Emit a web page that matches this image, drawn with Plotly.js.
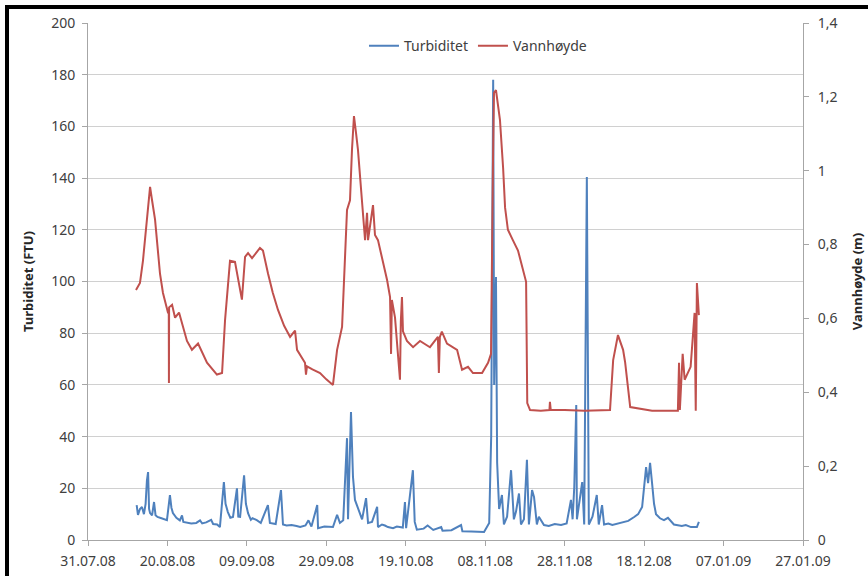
<!DOCTYPE html>
<html>
<head>
<meta charset="utf-8">
<script src="https://cdn.plot.ly/plotly-3.0.1.min.js"></script>
<style>
  html, body { margin: 0; padding: 0; background: #fff; overflow: hidden; width: 868px; height: 576px; }
  #chart { width: 868px; height: 576px; position: absolute; left: 0; top: 0; }
  #frame { position: absolute; left: 5px; top: 5px; width: 859px; height: 567px;
           border-top: 4px solid #000; border-left: 4px solid #000; pointer-events: none; }
</style>
</head>
<body>
<div id="chart"></div>
<div id="frame"></div>
<script>
// Turbiditet (FTU), left axis
const turbDates = [
  "2008-08-12 06:00","2008-08-12 14:00","2008-08-13 02:00","2008-08-13 14:00","2008-08-14 02:00","2008-08-14 12:00",
  "2008-08-14 20:00","2008-08-15 03:00","2008-08-15 09:00","2008-08-15 15:00","2008-08-16 03:00","2008-08-16 15:00",
  "2008-08-17 00:00","2008-08-17 12:00","2008-08-18 12:00","2008-08-19 06:00","2008-08-19 21:00","2008-08-20 15:00",
  "2008-08-21 00:00","2008-08-21 09:00","2008-08-22 06:00","2008-08-23 03:00","2008-08-23 16:00","2008-08-24 00:00",
  "2008-08-24 22:00","2008-08-26 00:00","2008-08-27 06:00","2008-08-28 05:00","2008-08-28 18:00","2008-08-29 18:00",
  "2008-08-31 00:00","2008-08-31 12:00","2008-09-01 12:00","2008-09-02 05:00","2008-09-03 05:00","2008-09-03 15:00",
  "2008-09-04 05:00","2008-09-04 20:00","2008-09-05 12:00","2008-09-06 12:00","2008-09-06 20:00","2008-09-07 07:00",
  "2008-09-08 07:00","2008-09-08 18:00","2008-09-09 07:00","2008-09-10 00:00","2008-09-10 10:00","2008-09-11 12:00",
  "2008-09-12 12:00","2008-09-14 07:00","2008-09-14 19:00","2008-09-15 12:00","2008-09-16 06:00","2008-09-17 14:00",
  "2008-09-18 02:00","2008-09-19 00:00","2008-09-20 06:00","2008-09-21 12:00","2008-09-22 10:00","2008-09-23 18:00",
  "2008-09-24 12:00","2008-09-25 06:00","2008-09-26 17:00","2008-09-26 22:00","2008-09-28 12:00","2008-09-30 16:00",
  "2008-10-01 17:00","2008-10-02 10:00","2008-10-03 06:00","2008-10-04 05:00","2008-10-04 11:00","2008-10-05 05:00",
  "2008-10-05 17:00","2008-10-06 05:00","2008-10-07 00:00","2008-10-08 00:00","2008-10-09 00:00","2008-10-09 12:00",
  "2008-10-10 12:00","2008-10-11 19:00","2008-10-12 00:00","2008-10-13 00:00","2008-10-13 18:00","2008-10-14 12:00",
  "2008-10-15 19:00","2008-10-16 18:00","2008-10-18 06:00","2008-10-18 19:00","2008-10-19 02:00","2008-10-20 19:00",
  "2008-10-21 06:00","2008-10-21 19:00","2008-10-23 12:00","2008-10-24 12:00","2008-10-25 22:00","2008-10-27 22:00",
  "2008-10-28 06:00","2008-10-30 12:00","2008-11-01 22:00","2008-11-02 06:00","2008-11-04 12:00","2008-11-07 17:00",
  "2008-11-09 00:00","2008-11-09 12:00","2008-11-10 00:00","2008-11-10 06:00","2008-11-10 17:00","2008-11-11 00:00",
  "2008-11-11 12:00","2008-11-12 05:00","2008-11-12 17:00","2008-11-13 12:00","2008-11-14 12:00","2008-11-15 05:00",
  "2008-11-15 18:00","2008-11-16 12:00","2008-11-17 00:00","2008-11-17 18:00","2008-11-18 12:00","2008-11-19 00:00",
  "2008-11-19 19:00","2008-11-20 07:00","2008-11-21 00:00","2008-11-21 12:00","2008-11-22 19:00","2008-11-24 00:00",
  "2008-11-25 12:00","2008-11-27 02:00","2008-11-28 12:00","2008-11-29 14:00","2008-11-30 00:00","2008-11-30 10:00",
  "2008-11-30 22:00","2008-12-01 02:00","2008-12-02 10:00","2008-12-02 22:00","2008-12-03 14:00","2008-12-04 02:00",
  "2008-12-05 00:00","2008-12-06 02:00","2008-12-06 14:00","2008-12-07 10:00","2008-12-07 22:00","2008-12-09 00:00",
  "2008-12-10 00:00","2008-12-12 05:00","2008-12-14 00:00","2008-12-15 12:00","2008-12-16 12:00","2008-12-17 12:00",
  "2008-12-18 12:00","2008-12-19 00:00","2008-12-19 12:00","2008-12-20 00:00","2008-12-20 12:00","2008-12-21 00:00",
  "2008-12-22 00:00","2008-12-23 00:00","2008-12-24 00:00","2008-12-25 12:00","2008-12-27 12:00","2008-12-28 12:00",
  "2008-12-29 19:00","2008-12-31 07:00","2008-12-31 19:00"
];
const turbValues = [
  13.5, 9.7, 12, 12.8, 10, 14,
  23, 26.3, 12, 10.4, 9.5, 14.7,
  9.6, 8.9, 8.4, 7.9, 7.7, 17.4,
  12.5, 10.4, 8.6, 7.6, 9.5, 7,
  6.6, 6.4, 6.6, 7.6, 6.4, 6.8,
  7.8, 6.2, 6, 5, 22.4, 14,
  10.8, 8.6, 8.9, 20, 9, 8.9,
  25, 14, 10.4, 7.8, 8.4, 7.7,
  6.6, 13.5, 6.6, 6.4, 6.2, 19.3,
  6, 5.6, 5.8, 5.4, 5, 5.6,
  7.6, 5.2, 13.5, 4.6, 5.2, 5,
  9.7, 6.6, 7.6, 39.4, 8, 49.5,
  24.4, 15.5, 12, 8, 16.2, 6.6,
  7, 12.8, 5, 6, 5.6, 5,
  4.6, 5.2, 4.8, 14.7, 4.6, 27,
  7, 4, 4.4, 5.6, 3.9, 5,
  3.6, 3.8, 5.8, 3.4, 3.3, 3.1,
  6.6, 40, 178, 60, 101.7, 30,
  12, 17.4, 6, 9, 27, 8,
  11, 18, 6, 8, 31, 6,
  19.3, 16.6, 6, 9, 5.8, 5.4,
  6.2, 5.8, 6.4, 15.5, 8, 20.5,
  52.2, 8, 22.4, 6, 140.4, 6,
  9, 17.4, 6, 13.5, 6, 6.4,
  5.8, 6.6, 7.4, 8.9, 10, 12.8,
  28.2, 22, 29.8, 22, 14, 10,
  8.4, 7.7, 8.6, 6, 5.4, 5.8,
  5, 5, 7
];

// Vannhøyde (m), right axis
const levelDates = [
  "2008-08-12 02:00","2008-08-13 02:00","2008-08-13 20:00","2008-08-14 18:00","2008-08-15 15:00","2008-08-16 03:00",
  "2008-08-16 21:00","2008-08-18 03:00","2008-08-18 21:00","2008-08-20 03:00","2008-08-20 08:00","2008-08-20 09:00",
  "2008-08-20 10:00","2008-08-21 04:00","2008-08-21 22:00","2008-08-22 22:00","2008-08-24 22:00","2008-08-26 04:00",
  "2008-08-27 17:00","2008-08-29 23:00","2008-09-01 11:00","2008-09-02 18:00","2008-09-03 12:00","2008-09-04 18:00",
  "2008-09-06 00:00","2008-09-07 18:00","2008-09-08 13:00","2008-09-09 07:00","2008-09-10 07:00","2008-09-12 07:00",
  "2008-09-13 01:00","2008-09-14 08:00","2008-09-15 12:00","2008-09-16 20:00","2008-09-18 09:00","2008-09-19 21:00",
  "2008-09-21 03:00","2008-09-21 15:00","2008-09-23 15:00","2008-09-23 21:00","2008-09-24 03:00","2008-09-25 12:00",
  "2008-09-27 10:00","2008-09-29 00:00","2008-09-30 16:00","2008-10-01 17:00","2008-10-02 23:00","2008-10-04 05:00",
  "2008-10-04 23:00","2008-10-05 11:00","2008-10-05 23:00","2008-10-06 12:00","2008-10-06 23:00","2008-10-07 23:00",
  "2008-10-08 18:00","2008-10-09 06:00","2008-10-09 12:00","2008-10-10 18:00","2008-10-11 06:00","2008-10-12 00:00",
  "2008-10-14 07:00","2008-10-15 01:00","2008-10-15 07:00","2008-10-15 12:00","2008-10-16 07:00","2008-10-17 13:00",
  "2008-10-17 18:00","2008-10-18 01:00","2008-10-18 07:00","2008-10-19 07:00","2008-10-20 20:00","2008-10-22 14:00",
  "2008-10-25 02:00","2008-10-27 02:00","2008-10-27 08:00","2008-10-27 14:00","2008-10-28 02:00","2008-10-29 09:00",
  "2008-10-31 22:00","2008-11-02 04:00","2008-11-03 16:00","2008-11-04 22:00","2008-11-07 05:00","2008-11-08 17:00",
  "2008-11-09 11:00","2008-11-09 23:00","2008-11-10 05:00","2008-11-10 17:00","2008-11-11 05:00","2008-11-11 17:00",
  "2008-11-12 12:00","2008-11-13 00:00","2008-11-13 17:00","2008-11-14 06:00","2008-11-14 23:00","2008-11-16 06:00",
  "2008-11-17 12:00","2008-11-18 07:00","2008-11-18 14:00","2008-11-19 07:00","2008-11-22 00:00","2008-11-24 04:00",
  "2008-11-24 07:00","2008-11-24 12:00","2008-11-28 00:00","2008-12-03 00:00","2008-12-09 10:00","2008-12-10 05:00",
  "2008-12-11 10:00","2008-12-12 17:00","2008-12-13 05:00","2008-12-14 12:00","2008-12-20 00:00","2008-12-26 12:00",
  "2008-12-26 19:00","2008-12-27 00:00","2008-12-27 17:00","2008-12-28 05:00","2008-12-29 17:00","2008-12-30 17:00",
  "2008-12-31 00:00","2008-12-31 07:00","2008-12-31 19:00"
];
const levelValues = [
  0.677, 0.696, 0.756, 0.87, 0.956, 0.92,
  0.868, 0.721, 0.669, 0.616, 0.616, 0.425,
  0.63, 0.637, 0.602, 0.616, 0.539, 0.515,
  0.532, 0.48, 0.448, 0.452, 0.595, 0.756,
  0.753, 0.651, 0.767, 0.777, 0.763, 0.791,
  0.784, 0.721, 0.67, 0.623, 0.58, 0.55,
  0.567, 0.515, 0.48, 0.448, 0.47, 0.462,
  0.452, 0.435, 0.42, 0.515, 0.577, 0.894,
  0.92, 1.057, 1.148, 1.1, 1.057, 0.92,
  0.812, 0.886, 0.812, 0.907, 0.826, 0.812,
  0.704, 0.658, 0.504, 0.65, 0.602, 0.434,
  0.59, 0.658, 0.565, 0.539, 0.522, 0.539,
  0.522, 0.55, 0.452, 0.55, 0.564, 0.532,
  0.515, 0.461, 0.469, 0.452, 0.452, 0.48,
  0.504, 1.029, 1.211, 1.218, 1.173, 1.138,
  1.008, 0.9, 0.84, 0.826, 0.812, 0.784,
  0.731, 0.699, 0.371, 0.352, 0.35, 0.352,
  0.374, 0.352, 0.352, 0.35, 0.352, 0.487,
  0.555, 0.515, 0.482, 0.36, 0.35, 0.35,
  0.48, 0.352, 0.504, 0.434, 0.469, 0.615,
  0.35, 0.696, 0.609
];

const leftTicks = [0, 20, 40, 60, 80, 100, 120, 140, 160, 180, 200];
const rightTicks = [0, 0.2, 0.4, 0.6, 0.8, 1.0, 1.2, 1.4];

const traces = [
  { x: turbDates, y: turbValues, name: "Turbiditet", type: "scatter", mode: "lines",
    line: { color: "#4F81BD", width: 2 }, yaxis: "y" },
  { x: levelDates, y: levelValues, name: "Vannhøyde", type: "scatter", mode: "lines",
    line: { color: "#C0504D", width: 2 }, yaxis: "y2" }
];

const font = "Noto Sans, Open Sans, sans-serif";
const tickFont = { family: font, size: 14, color: "#404040" };
const layout = {
  width: 868, height: 576,
  margin: { l: 88, r: 65, t: 23, b: 36, pad: 0 },
  paper_bgcolor: "#ffffff", plot_bgcolor: "#ffffff",
  separators: ", ",
  font: { family: font, size: 14, color: "#404040" },
  showlegend: true,
  legend: { orientation: "h", x: 0.386, xanchor: "left", y: 0.955, yanchor: "middle",
            font: { family: font, size: 14, color: "#404040" }, bgcolor: "rgba(0,0,0,0)",
            itemwidth: 30, tracegroupgap: 0 },
  xaxis: {
    type: "date",
    range: ["2008-07-31", "2009-01-27"],
    tick0: "2008-07-31", dtick: 20 * 86400000,
    tickformat: "%d.%m.%y",
    showgrid: false, zeroline: false,
    showline: true, linecolor: "#a6a6a6", linewidth: 1,
    ticks: "outside", ticklen: 5, tickcolor: "#a6a6a6",
    ticklabelstandoff: 3,
    tickfont: tickFont
  },
  yaxis: {
    range: [0, 200], tickvals: leftTicks,
    showgrid: true, gridcolor: "#d0d0d0", gridwidth: 1,
    zeroline: false, showline: true, linecolor: "#a6a6a6", linewidth: 1,
    ticks: "outside", ticklen: 5, tickcolor: "#a6a6a6",
    ticklabelstandoff: 4,
    tickfont: tickFont,
    title: { text: "Turbiditet (FTU)", standoff: 14,
             font: { family: font, size: 13, color: "#262626", weight: "bold" } }
  },
  yaxis2: {
    range: [0, 1.4], tickvals: rightTicks,
    overlaying: "y", side: "right",
    showgrid: false, zeroline: false,
    showline: true, linecolor: "#a6a6a6", linewidth: 1,
    ticks: "outside", ticklen: 5, tickcolor: "#a6a6a6",
    ticklabelstandoff: 6,
    tickfont: tickFont,
    title: { text: "Vannhøyde (m)", standoff: 16,
             font: { family: font, size: 13, color: "#262626", weight: "bold" } }
  }
};

Plotly.newPlot("chart", traces, layout, { displayModeBar: false, staticPlot: true });
</script>
</body>
</html>
